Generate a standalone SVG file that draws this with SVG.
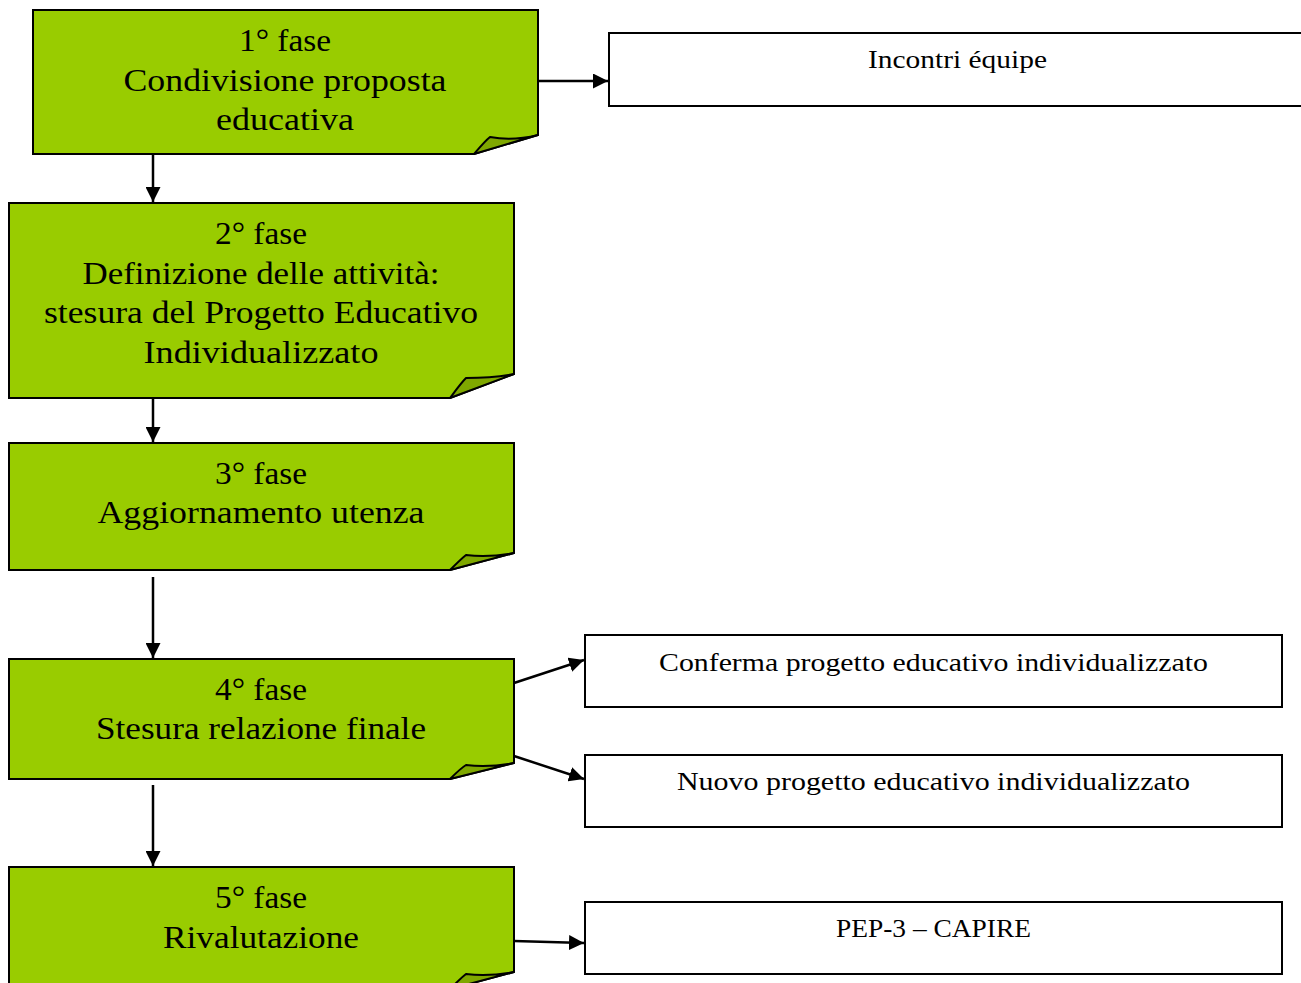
<svg xmlns="http://www.w3.org/2000/svg" width="1301" height="983" viewBox="0 0 1301 983">
<defs>
<style>
.box{fill:#99cc00;stroke:#000;stroke-width:2}
.curl{fill:#7fa800;stroke:#000;stroke-width:2;stroke-linejoin:round}
.wb{fill:#fff;stroke:#000;stroke-width:2}
.t{font-family:"Liberation Serif",serif;font-size:32px;fill:#000;text-anchor:middle}
.s{font-family:"Liberation Serif",serif;font-size:26px;fill:#000;text-anchor:middle}
.c{stroke:#000;stroke-width:2.5;fill:none;marker-end:url(#ah)}
</style>
<marker id="ah" viewBox="0 0 10 10" refX="10" refY="5" markerWidth="6" markerHeight="6" markerUnits="strokeWidth" orient="auto">
<path d="M0,0 L10,5 L0,10 Z" fill="#000"/>
</marker>
</defs>
<rect width="1301" height="983" fill="#fff"/>
<g id="connectors">
<line class="c" x1="538" y1="81" x2="608" y2="81"/>
<line class="c" x1="153" y1="154" x2="153" y2="202"/>
<line class="c" x1="153" y1="398" x2="153" y2="442"/>
<line class="c" x1="153" y1="577" x2="153" y2="658"/>
<line class="c" x1="514" y1="683" x2="584" y2="660"/>
<line class="c" x1="514" y1="756" x2="584" y2="779"/>
<line class="c" x1="153" y1="785" x2="153" y2="866"/>
<line class="c" x1="514" y1="941" x2="584" y2="943"/>
</g>
<g id="fase1">
<path class="box" d="M33,10 H538 V135 L474,154 H33 Z"/>
<path class="curl" d="M474,154 C480,147 485,141 490,137 C505,140 522,139 538,135 Z"/>
<text class="t" x="285" y="51" textLength="92" lengthAdjust="spacingAndGlyphs">1° fase</text>
<text class="t" x="285" y="91" textLength="323" lengthAdjust="spacingAndGlyphs">Condivisione proposta</text>
<text class="t" x="285" y="130" textLength="138" lengthAdjust="spacingAndGlyphs">educativa</text>
</g>
<g id="fase2">
<path class="box" d="M9,203 H514 V374 L450,398 H9 Z"/>
<path class="curl" d="M450,398 C456,390 461,383 466,378 C481,378 498,377 514,374 Z"/>
<text class="t" x="261" y="244" textLength="92" lengthAdjust="spacingAndGlyphs">2° fase</text>
<text class="t" x="261" y="284" textLength="357" lengthAdjust="spacingAndGlyphs">Definizione delle attività:</text>
<text class="t" x="261" y="323" textLength="434" lengthAdjust="spacingAndGlyphs">stesura del Progetto Educativo</text>
<text class="t" x="261" y="363" textLength="235" lengthAdjust="spacingAndGlyphs">Individualizzato</text>
</g>
<g id="fase3">
<path class="box" d="M9,443 H514 V553 L450,570 H9 Z"/>
<path class="curl" d="M450,570 C456,564 461,559 466,555 C481,557 498,556 514,553 Z"/>
<text class="t" x="261" y="484" textLength="92" lengthAdjust="spacingAndGlyphs">3° fase</text>
<text class="t" x="261" y="523" textLength="327" lengthAdjust="spacingAndGlyphs">Aggiornamento utenza</text>
</g>
<g id="fase4">
<path class="box" d="M9,659 H514 V763 L450,779 H9 Z"/>
<path class="curl" d="M450,779 C456,773 461,768 466,765 C481,767 498,766 514,763 Z"/>
<text class="t" x="261" y="700" textLength="92" lengthAdjust="spacingAndGlyphs">4° fase</text>
<text class="t" x="261" y="739" textLength="330" lengthAdjust="spacingAndGlyphs">Stesura relazione finale</text>
</g>
<g id="fase5">
<path class="box" d="M9,867 H514 V972 L450,989 H9 Z"/>
<path class="curl" d="M450,989 C456,983 461,978 466,974 C481,976 498,975 514,972 Z"/>
<text class="t" x="261" y="908" textLength="92" lengthAdjust="spacingAndGlyphs">5° fase</text>
<text class="t" x="261" y="948" textLength="196" lengthAdjust="spacingAndGlyphs">Rivalutazione</text>
</g>
<g id="incontri">
<rect class="wb" x="609" y="33" width="700" height="73"/>
<text class="s" x="957.5" y="68" textLength="179" lengthAdjust="spacingAndGlyphs">Incontri équipe</text>
</g>
<g id="conferma">
<rect class="wb" x="585" y="635" width="697" height="72"/>
<text class="s" x="933.5" y="671" textLength="549" lengthAdjust="spacingAndGlyphs">Conferma progetto educativo individualizzato</text>
</g>
<g id="nuovo">
<rect class="wb" x="585" y="755" width="697" height="72"/>
<text class="s" x="933.5" y="790" textLength="513" lengthAdjust="spacingAndGlyphs">Nuovo progetto educativo individualizzato</text>
</g>
<g id="pep">
<rect class="wb" x="585" y="902" width="697" height="72"/>
<text class="s" x="933.5" y="937" textLength="195" lengthAdjust="spacingAndGlyphs">PEP-3 – CAPIRE</text>
</g>
</svg>
